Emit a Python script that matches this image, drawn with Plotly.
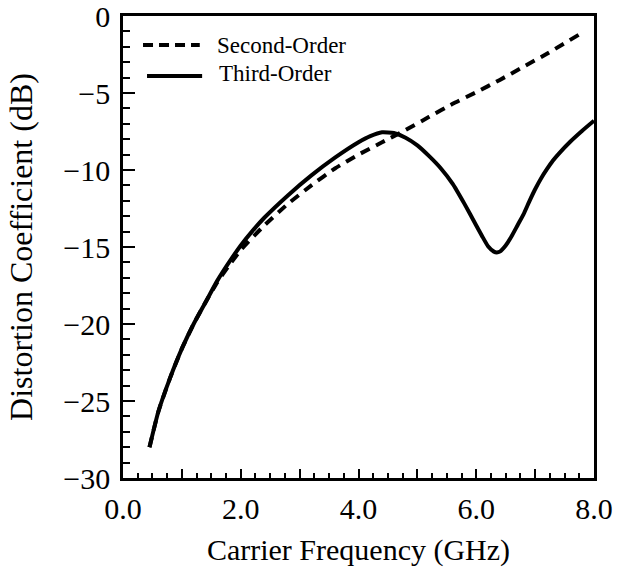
import plotly.graph_objects as go

# Carrier frequency (GHz) and distortion coefficients (dB)
freq_second = [0.45, 0.6, 0.8, 1.0, 1.2, 1.4, 1.6, 1.8, 2.0, 2.4, 2.8, 3.2,
               3.6, 4.0, 4.4, 4.8, 5.2, 5.6, 6.0, 6.4, 6.8, 7.2, 7.75]
second_order = [-28.0, -25.7, -23.5, -21.6, -20.0, -18.6, -17.3, -16.2, -15.2,
                -13.6, -12.2, -11.0, -9.9, -9.0, -8.2, -7.4, -6.55, -5.7,
                -4.95, -4.15, -3.3, -2.45, -1.2]

freq_third = [0.45, 0.6, 0.8, 1.0, 1.2, 1.4, 1.6, 1.8, 2.0, 2.2, 2.4, 2.8, 3.2,
              3.6, 4.0, 4.2, 4.4, 4.6, 4.8, 5.0, 5.2, 5.4, 5.6, 5.8, 6.0,
              6.1, 6.2, 6.3, 6.35, 6.4, 6.5, 6.6, 6.7, 6.8, 6.9, 7.0, 7.1,
              7.2, 7.3, 7.4, 7.6, 7.8, 8.0]
third_order = [-28.0, -25.7, -23.5, -21.6, -20.0, -18.6, -17.2, -16.0, -14.9,
               -13.95, -13.1, -11.65, -10.35, -9.2, -8.2, -7.8, -7.55, -7.6, -7.9,
               -8.4, -9.1, -9.9, -10.9, -12.2, -13.6, -14.3, -14.95, -15.3,
               -15.35, -15.3, -14.9, -14.3, -13.6, -12.9, -12.05, -11.25, -10.55,
               -9.95, -9.4, -8.95, -8.15, -7.45, -6.8]

series_names = ["Second-Order", "Third-Order"]
x_tick_vals = [0, 1, 2, 3, 4, 5, 6, 7, 8]
x_tick_text = ["0.0", "", "2.0", "", "4.0", "", "6.0", "", "8.0"]
y_tick_vals = [0, -5, -10, -15, -20, -25, -30]
y_tick_text = ["0", "\u22125", "\u221210", "\u221215", "\u221220", "\u221225", "\u221230"]

FONT = "Liberation Serif"
INK = "black"

fig = go.Figure()
fig.add_trace(go.Scatter(
    x=freq_second, y=second_order, mode="lines", name=series_names[0],
    line=dict(color=INK, width=4, dash="10px,7px", shape="spline", smoothing=0.5),
))
fig.add_trace(go.Scatter(
    x=freq_third, y=third_order, mode="lines", name=series_names[1],
    line=dict(color=INK, width=4, shape="spline", smoothing=0.5),
))

# hand-drawn key in the upper-left corner
key_rows = [
    dict(x0=0.0425, x1=0.163, y=0.937, dash="dash", text_x=0.195, text_y=0.937),
    dict(x0=0.051, x1=0.168, y=0.870, dash="solid", text_x=0.199, text_y=0.876),
]
for row, name in zip(key_rows, series_names):
    fig.add_shape(type="line", xref="paper", yref="paper",
                  x0=row["x0"], x1=row["x1"], y0=row["y"], y1=row["y"],
                  line=dict(color=INK, width=4,
                            dash="10px,6px" if row["dash"] == "dash" else "solid"))
    fig.add_annotation(xref="paper", yref="paper", x=row["text_x"], y=row["text_y"],
                       text=name, showarrow=False, xanchor="left", yanchor="middle",
                       font=dict(family=FONT, size=23, color=INK))

fig.update_layout(
    width=618, height=574,
    margin=dict(l=123, r=24, t=16, b=96),
    paper_bgcolor="white", plot_bgcolor="white",
    showlegend=False,
    font=dict(family=FONT, color=INK),
)
fig.update_xaxes(
    range=[0, 8], tickmode="array", tickvals=x_tick_vals, ticktext=x_tick_text,
    ticks="inside", ticklen=9, tickwidth=2, tickcolor=INK,
    minor=dict(dtick=0.25, ticks="inside", ticklen=5, tickwidth=2, tickcolor=INK),
    showline=True, linecolor=INK, linewidth=2.5, mirror=True,
    showgrid=False, zeroline=False, automargin=False,
    tickfont=dict(family=FONT, size=30, color=INK), ticklabelstandoff=2,
    ticklabeloverflow="allow",
    title=dict(text="Carrier Frequency (GHz)", font=dict(family=FONT, size=30, color=INK),
               standoff=16),
)
fig.update_yaxes(
    range=[-30, 0], tickmode="array", tickvals=y_tick_vals, ticktext=y_tick_text,
    ticks="inside", ticklen=12, tickwidth=2, tickcolor=INK,
    minor=dict(dtick=1, ticks="inside", ticklen=7, tickwidth=2, tickcolor=INK),
    showline=True, linecolor=INK, linewidth=2.5, mirror=True,
    showgrid=False, zeroline=False, automargin=False,
    tickfont=dict(family=FONT, size=30, color=INK), ticklabelstandoff=4,
    ticklabeloverflow="allow",
    title=dict(text="Distortion Coefficient (dB)", font=dict(family=FONT, size=32, color=INK),
               standoff=22),
)

fig.write_html("out.html")
